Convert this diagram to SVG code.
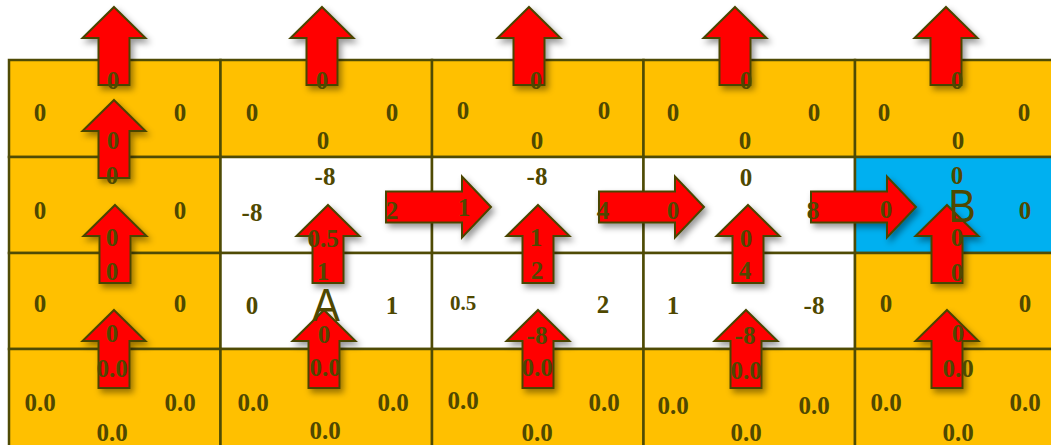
<svg xmlns="http://www.w3.org/2000/svg" xmlns:xlink="http://www.w3.org/1999/xlink" width="1051" height="445" viewBox="0 0 1051 445">
<style>
.cell{stroke:#4f4b05;stroke-width:2.5}
.o{fill:#FFC000}
.w{fill:#FFFFFF}
.b{fill:#00B0F0}
.arr{fill:#FF0000;stroke:#4a4500;stroke-width:2;stroke-linejoin:miter;filter:url(#sh)}
.q{font-family:"Liberation Serif","Times New Roman",serif;font-weight:bold;font-size:25px;fill:#4f4800;text-anchor:middle}
.big{font-family:"Liberation Sans",Arial,sans-serif;font-size:47px;fill:#4f4800;text-anchor:middle}
</style>
<defs>
<filter id="sh" x="-30%" y="-30%" width="160%" height="160%">
<feDropShadow dx="3" dy="4" stdDeviation="3" flood-color="#000" flood-opacity="0.4"/>
</filter>
<polygon id="up" points="0,0 31.5,31 15.5,31 15.5,78 -15.5,78 -15.5,31 -31.5,31"/>
<polygon id="right" points="0,0 -29,-30.5 -29,-15.5 -105,-15.5 -105,15.5 -29,15.5 -29,30.5"/>
</defs>
<rect width="1051" height="445" fill="#FFFFFF"/>
<g id="cells">
<g id="r0c1"><rect class="cell o" x="9" y="60" width="211.5" height="97"/></g>
<g id="r0c2"><rect class="cell o" x="220.5" y="60" width="211.5" height="97"/></g>
<g id="r0c3"><rect class="cell o" x="432" y="60" width="211.5" height="97"/></g>
<g id="r0c4"><rect class="cell o" x="643.5" y="60" width="211.5" height="97"/></g>
<g id="r0c5"><rect class="cell o" x="855" y="60" width="211.5" height="97"/></g>
<g id="r1c1"><rect class="cell o" x="9" y="157" width="211.5" height="96"/></g>
<g id="r1c2"><rect class="cell w" x="220.5" y="157" width="211.5" height="96"/></g>
<g id="r1c3"><rect class="cell w" x="432" y="157" width="211.5" height="96"/></g>
<g id="r1c4"><rect class="cell w" x="643.5" y="157" width="211.5" height="96"/></g>
<g id="r1c5"><rect class="cell b" x="855" y="157" width="211.5" height="96"/></g>
<g id="r2c1"><rect class="cell o" x="9" y="253" width="211.5" height="96"/></g>
<g id="r2c2"><rect class="cell w" x="220.5" y="253" width="211.5" height="96"/></g>
<g id="r2c3"><rect class="cell w" x="432" y="253" width="211.5" height="96"/></g>
<g id="r2c4"><rect class="cell w" x="643.5" y="253" width="211.5" height="96"/></g>
<g id="r2c5"><rect class="cell o" x="855" y="253" width="211.5" height="96"/></g>
<g id="r3c1"><rect class="cell o" x="9" y="349" width="211.5" height="100"/></g>
<g id="r3c2"><rect class="cell o" x="220.5" y="349" width="211.5" height="100"/></g>
<g id="r3c3"><rect class="cell o" x="432" y="349" width="211.5" height="100"/></g>
<g id="r3c4"><rect class="cell o" x="643.5" y="349" width="211.5" height="100"/></g>
<g id="r3c5"><rect class="cell o" x="855" y="349" width="211.5" height="100"/></g>
</g>
<g id="connectors">
<use href="#up" class="arr" x="114" y="7"/>
<use href="#up" class="arr" x="322" y="7"/>
<use href="#up" class="arr" x="529" y="7"/>
<use href="#up" class="arr" x="735" y="7"/>
<use href="#up" class="arr" x="946" y="7"/>
<use href="#up" class="arr" x="114" y="100"/>
<use href="#up" class="arr" x="115" y="205"/>
<use href="#up" class="arr" x="328" y="205"/>
<use href="#up" class="arr" x="538" y="205"/>
<use href="#up" class="arr" x="748" y="205"/>
<use href="#up" class="arr" x="947" y="205"/>
<use href="#up" class="arr" x="114" y="310"/>
<use href="#up" class="arr" x="324" y="310"/>
<use href="#up" class="arr" x="538" y="310"/>
<use href="#up" class="arr" x="746" y="310"/>
<use href="#up" class="arr" x="947" y="310"/>
<use href="#right" class="arr" x="491" y="207"/>
<use href="#right" class="arr" x="704" y="207"/>
<use href="#right" class="arr" x="916" y="207"/>
</g>
<g id="labels">
<g id="r0c1-labels"><text class="q" x="113" y="89">0</text><text class="q" x="40" y="121">0</text><text class="q" x="180" y="121">0</text><text class="q" x="113" y="149">0</text></g>
<g id="r0c2-labels"><text class="q" x="322" y="89">0</text><text class="q" x="252" y="121">0</text><text class="q" x="392" y="121">0</text><text class="q" x="323" y="149">0</text></g>
<g id="r0c3-labels"><text class="q" x="536" y="89">0</text><text class="q" x="463" y="119">0</text><text class="q" x="604" y="119">0</text><text class="q" x="537" y="149">0</text></g>
<g id="r0c4-labels"><text class="q" x="746" y="89">0</text><text class="q" x="673" y="121">0</text><text class="q" x="814" y="121">0</text><text class="q" x="745" y="149">0</text></g>
<g id="r0c5-labels"><text class="q" x="957" y="89">0</text><text class="q" x="884" y="121">0</text><text class="q" x="1024" y="121">0</text><text class="q" x="958" y="149">0</text></g>
<g id="r1c1-labels"><text class="q" x="112" y="184">0</text><text class="q" x="40" y="219">0</text><text class="q" x="180" y="219">0</text><text class="q" x="112" y="246">0</text></g>
<g id="r1c2-labels"><text class="q" x="325" y="185">-8</text><text class="q" x="252" y="221">-8</text><text class="q" x="392" y="219">2</text><text class="q" x="323" y="247">0.5</text></g>
<g id="r1c3-labels"><text class="q" x="537" y="185">-8</text><text class="q" x="464" y="216">1</text><text class="q" x="603" y="219">4</text><text class="q" x="536" y="246">1</text></g>
<g id="r1c4-labels"><text class="q" x="746" y="186">0</text><text class="q" x="673" y="219">0</text><text class="q" x="813" y="219">8</text><text class="q" x="746" y="247">0</text></g>
<g id="r1c5-labels"><text class="q" x="957" y="184">0</text><text class="big" transform="translate(962,222) scale(0.88,1)">B</text><text class="q" x="886" y="218">0</text><text class="q" x="1025" y="219">0</text><text class="q" x="957" y="246">0</text></g>
<g id="r2c1-labels"><text class="q" x="112" y="280">0</text><text class="q" x="40" y="312">0</text><text class="q" x="180" y="312">0</text><text class="q" x="112" y="342">0</text></g>
<g id="r2c2-labels"><text class="q" x="323" y="280">1</text><text class="big" transform="translate(326,321) scale(0.88,1)">A</text><text class="q" x="252" y="314">0</text><text class="q" x="392" y="314">1</text><text class="q" x="324" y="343">0</text></g>
<g id="r2c3-labels"><text class="q" x="537" y="279">2</text><text class="q" x="463" y="310" style="font-size:21px">0.5</text><text class="q" x="603" y="313">2</text><text class="q" x="537" y="344">-8</text></g>
<g id="r2c4-labels"><text class="q" x="745" y="279">4</text><text class="q" x="673" y="314">1</text><text class="q" x="814" y="314">-8</text><text class="q" x="745" y="344">-8</text></g>
<g id="r2c5-labels"><text class="q" x="957" y="281">0</text><text class="q" x="886" y="312">0</text><text class="q" x="1025" y="312">0</text><text class="q" x="958" y="342">0</text></g>
<g id="r3c1-labels"><text class="q" x="112" y="377">0.0</text><text class="q" x="40" y="411">0.0</text><text class="q" x="180" y="411">0.0</text><text class="q" x="112" y="441">0.0</text></g>
<g id="r3c2-labels"><text class="q" x="325" y="376">0.0</text><text class="q" x="253" y="411">0.0</text><text class="q" x="393" y="411">0.0</text><text class="q" x="325" y="439">0.0</text></g>
<g id="r3c3-labels"><text class="q" x="537" y="376">0.0</text><text class="q" x="463" y="409">0.0</text><text class="q" x="604" y="411">0.0</text><text class="q" x="537" y="441">0.0</text></g>
<g id="r3c4-labels"><text class="q" x="746" y="379">0.0</text><text class="q" x="673" y="414">0.0</text><text class="q" x="814" y="414">0.0</text><text class="q" x="746" y="441">0.0</text></g>
<g id="r3c5-labels"><text class="q" x="958" y="377">0.0</text><text class="q" x="886" y="411">0.0</text><text class="q" x="1025" y="411">0.0</text><text class="q" x="958" y="441">0.0</text></g>
</g>
</svg>
